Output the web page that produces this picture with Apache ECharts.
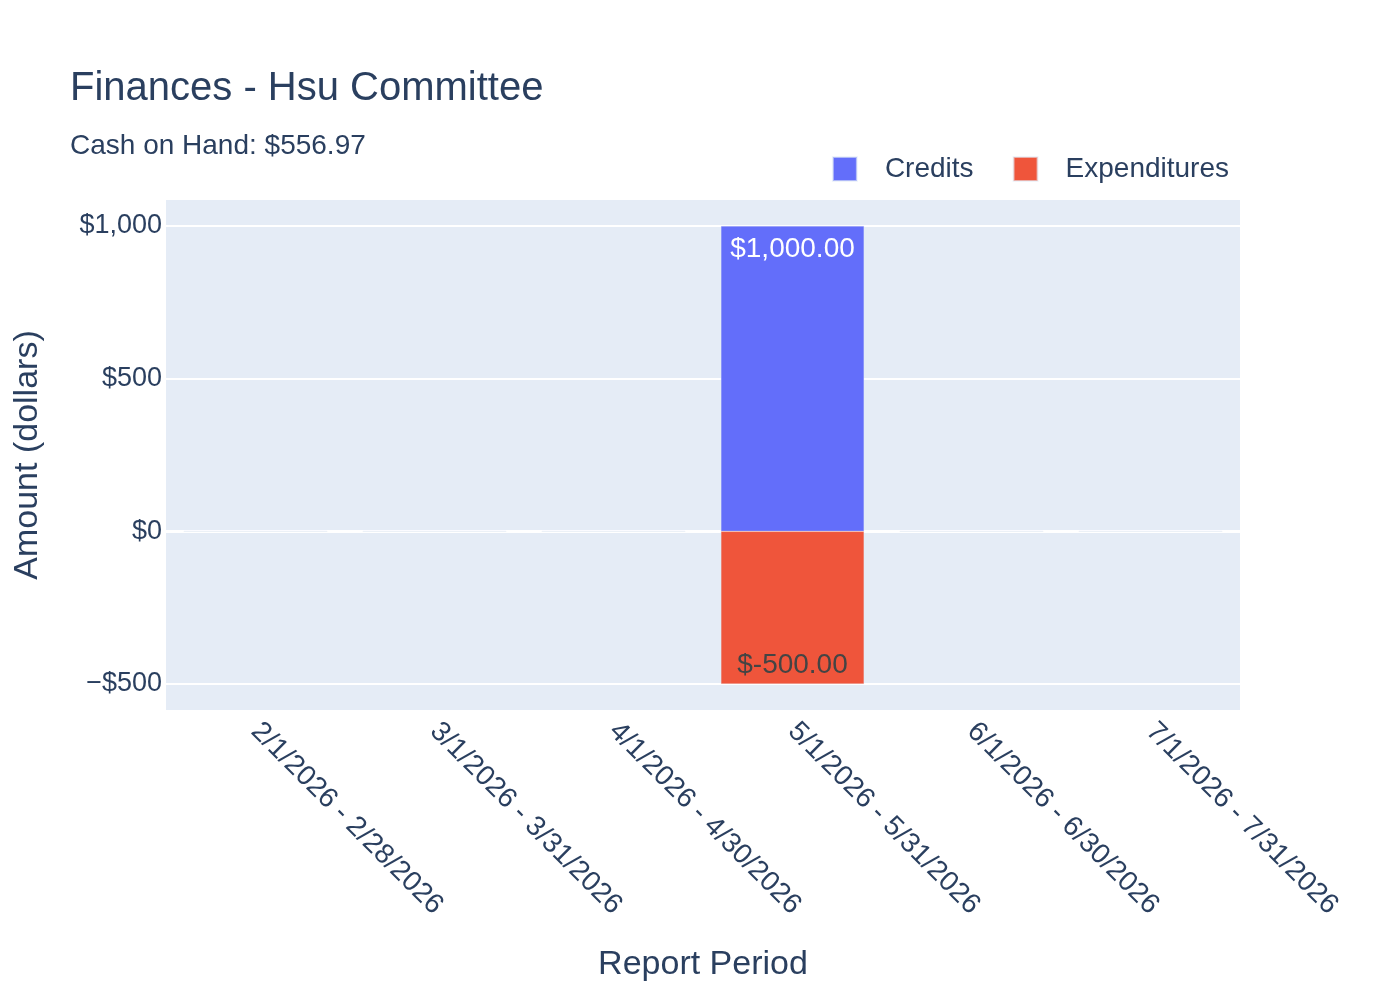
<!DOCTYPE html>
<html>
<head>
<meta charset="utf-8">
<script src="https://cdn.jsdelivr.net/npm/echarts@6/dist/echarts.min.js"></script>
<style>
  html, body { margin: 0; padding: 0; background: #fff; }
  #chart { width: 1400px; height: 1000px; }
</style>
</head>
<body>
<div id="chart"></div>
<script>
// report periods and amounts
var periods = ['2/1/2026 - 2/28/2026', '3/1/2026 - 3/31/2026', '4/1/2026 - 4/30/2026',
    '5/1/2026 - 5/31/2026', '6/1/2026 - 6/30/2026', '7/1/2026 - 7/31/2026'];
var credits = [0, 0, 0, 1000, 0, 0];
var expenditures = [0, 0, 0, -500, 0, 0];
var yTicks = [-500, 0, 500, 1000];
var cashOnHand = '$556.97';

var textColor = '#2a3f5f';
var fontName = '"Liberation Sans", Arial, sans-serif';

function money(v) {
    return '$' + v.toLocaleString('en-US', { minimumFractionDigits: 2, maximumFractionDigits: 2 });
}
function tickMoney(v) {
    var s = '$' + Math.abs(v).toLocaleString('en-US');
    return v < 0 ? '\u2212' + s : s;
}

var chart = echarts.init(document.getElementById('chart'));
var option = {
    backgroundColor: '#fff',
    textStyle: { fontFamily: fontName, color: textColor },
    title: {
        text: 'Finances - Hsu Committee',
        subtext: 'Cash on Hand: ' + cashOnHand,
        left: 65,
        top: 64,
        itemGap: 23,
        textStyle: { fontFamily: fontName, fontSize: 40, fontWeight: 'normal', color: textColor },
        subtextStyle: { fontFamily: fontName, fontSize: 28, color: textColor }
    },
    legend: {
        data: ['Credits', 'Expenditures'],
        right: 166,
        top: 150,
        itemWidth: 24,
        itemHeight: 24,
        itemGap: 39,
        icon: 'rect',
        textStyle: { fontFamily: fontName, fontSize: 28, color: textColor, padding: [0, 0, 0, 23] }
    },
    grid: {
        left: 166,
        right: 160,
        top: 200,
        bottom: 290,
        show: true,
        backgroundColor: '#E5ECF6',
        borderWidth: 0,
        containLabel: false,
        outerBoundsMode: 'none'
    },
    xAxis: {
        type: 'category',
        data: periods,
        name: 'Report Period',
        nameLocation: 'middle',
        nameGap: 238,
        nameTextStyle: { fontFamily: fontName, fontSize: 34, color: textColor },
        axisLine: { show: true, onZero: true, lineStyle: { color: '#fff', width: 3 } },
        axisTick: { show: false },
        axisLabel: { rotate: -45, fontSize: 28, color: textColor, margin: 17, interval: 0 },
        splitLine: { show: false }
    },
    yAxis: {
        type: 'value',
        min: -585,
        max: 1085,
        name: 'Amount (dollars)',
        nameLocation: 'middle',
        nameGap: 121,
        nameTextStyle: { fontFamily: fontName, fontSize: 34, color: textColor },
        axisLine: { show: false },
        axisTick: { show: false, customValues: yTicks },
        axisLabel: { customValues: yTicks, fontSize: 27, color: textColor, margin: 4, formatter: tickMoney },
        splitLine: { show: true, lineStyle: { color: '#fff', width: 2 } }
    },
    series: [
        {
            name: 'Credits',
            type: 'bar',
            stack: 'total',
            barCategoryGap: '20%',
            data: credits,
            itemStyle: { color: '#636EFA', borderColor: 'rgba(229,236,246,0.6)', borderWidth: 0.5 },
            label: {
                show: true,
                position: 'insideTop',
                distance: 9,
                fontFamily: fontName,
                fontSize: 28,
                color: '#fff',
                formatter: function (p) { return p.value ? money(p.value) : ''; }
            }
        },
        {
            name: 'Expenditures',
            type: 'bar',
            stack: 'total',
            data: expenditures,
            itemStyle: { color: '#EF553B', borderColor: 'rgba(229,236,246,0.6)', borderWidth: 0.5 },
            label: {
                show: true,
                position: 'insideBottom',
                distance: 5,
                fontFamily: fontName,
                fontSize: 28,
                color: '#444',
                formatter: function (p) { return p.value ? money(p.value) : ''; }
            }
        }
    ]
};
chart.setOption(option);
</script>
</body>
</html>
